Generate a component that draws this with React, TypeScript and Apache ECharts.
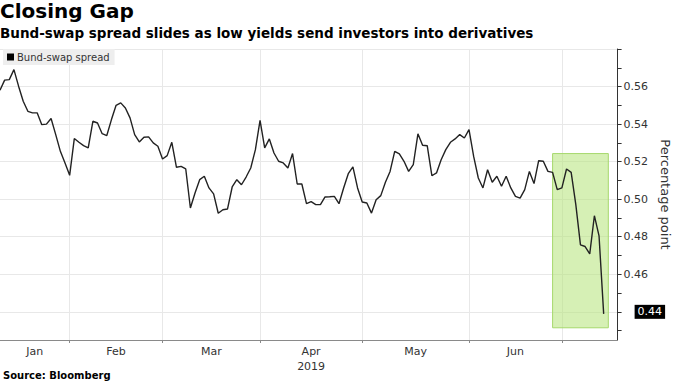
import React, { useEffect, useRef } from "react";
import * as echarts from "echarts";

const monthNames = ["Jan", "Feb", "Mar", "Apr", "May", "Jun"];
// business-day index at which each month (Feb..Jul) begins
const monthStarts = [15, 35, 56, 78, 101, 121];
// business-day index of each month's centre (label positions)
const monthCentres = [7.5, 25, 45.5, 67, 89.5, 111];
const yearLabel = "2019";
const xMax = 133;

// Bund-swap spread, one value per business day from mid-January 2019
const spread = [
  0.558, 0.5634, 0.5637, 0.569, 0.5602, 0.5522, 0.5468, 0.546, 0.546, 0.5397,
  0.54, 0.543, 0.5344, 0.5255, 0.5193, 0.5127, 0.5323, 0.5303, 0.5285, 0.5273,
  0.5415, 0.5406, 0.5349, 0.5339, 0.5424, 0.55, 0.5513, 0.5486, 0.5433, 0.5344,
  0.5305, 0.533, 0.5332, 0.53, 0.5282, 0.5214, 0.5232, 0.5303, 0.517, 0.5175,
  0.5161, 0.4953, 0.5033, 0.5104, 0.5122, 0.506, 0.5028, 0.4925, 0.4944, 0.4948,
  0.5065, 0.5104, 0.5077, 0.5118, 0.5166, 0.5264, 0.542, 0.5273, 0.5321, 0.5246,
  0.5202, 0.5193, 0.5166, 0.5243, 0.5081, 0.5081, 0.4976, 0.4987, 0.4971, 0.4971,
  0.5012, 0.5013, 0.5015, 0.4976, 0.506, 0.5136, 0.5172, 0.506, 0.4985, 0.498,
  0.4926, 0.4997, 0.5019, 0.509, 0.5148, 0.5255, 0.5241, 0.5202, 0.5148, 0.5184,
  0.5348, 0.5287, 0.5285, 0.5125, 0.514, 0.521, 0.5264, 0.5303, 0.5321, 0.5344,
  0.5326, 0.5371, 0.5228, 0.5113, 0.506, 0.5157, 0.509, 0.5122, 0.5069, 0.5122,
  0.506, 0.5015, 0.5006, 0.5051, 0.5148, 0.5083, 0.5205, 0.5202, 0.5148, 0.5143,
  0.5051, 0.506, 0.5161, 0.5143, 0.4971, 0.4757, 0.4748, 0.4709, 0.4912, 0.4805,
  0.4389,
];

const yMin = 0.425;
const yMax = 0.58;
const yTickValues = [0.43, 0.44, 0.45, 0.46, 0.47, 0.48, 0.49, 0.5, 0.51, 0.52, 0.53, 0.54, 0.55, 0.56, 0.57, 0.58];
const yLabelValues = [0.46, 0.48, 0.5, 0.52, 0.54, 0.56];
const yGridValues = [0.44, 0.46, 0.48, 0.5, 0.52, 0.54, 0.56, 0.58];

const highlightX = [119, 131];
const highlightY = [0.4315, 0.5243];

const FONT = "DejaVu Sans";

export default function App() {
  const ref = useRef<HTMLDivElement>(null);

  useEffect(() => {
    document.body.style.margin = "0";
    if (!ref.current) return;
    const chart = echarts.init(ref.current, undefined, { renderer: "svg" });
    const data = spread.map((v, i) => [i, v]);
    const last = spread[spread.length - 1];

    chart.setOption({
      animation: false,
      textStyle: { fontFamily: FONT },
      title: [
        {
          text: "Closing Gap",
          left: 0,
          top: 1,
          padding: 0,
          textStyle: { fontSize: 20, fontWeight: "bold", color: "#000", fontFamily: FONT },
        },
        {
          text: "Bund-swap spread slides as low yields send investors into derivatives",
          left: 0,
          top: 26,
          padding: 0,
          textStyle: { fontSize: 13.5, fontWeight: "bold", color: "#000", fontFamily: FONT },
        },
        {
          text: "Source: Bloomberg",
          left: 3,
          top: 370,
          padding: 0,
          textStyle: { fontSize: 10, fontWeight: "bold", color: "#000", fontFamily: FONT },
        },
      ],
      legend: {
        left: 3,
        top: 49,
        padding: [3, 5, 3, 4],
        backgroundColor: "#eeeeee",
        itemWidth: 7,
        itemHeight: 7,
        itemGap: 4,
        icon: "rect",
        textStyle: { fontSize: 10, color: "#333", fontFamily: FONT, padding: [0, 0, 0, -2] },
        data: [{ name: "Bund-swap spread", itemStyle: { color: "#000" } }],
      },
      grid: { left: 0, right: 49, top: 49, bottom: 42, containLabel: false },
      xAxis: {
        type: "value",
        min: 0,
        max: xMax,
        axisLine: { show: true, onZero: false, lineStyle: { color: "#8a8a8a", width: 1 } },
        axisTick: { show: true, length: 3, lineStyle: { color: "#8a8a8a" }, customValues: monthStarts },
        splitLine: { show: true, lineStyle: { color: "#e8e8e8", width: 1 } },
        axisLabel: {
          customValues: monthCentres,
          margin: 4,
          fontSize: 11,
          color: "#333",
          fontFamily: FONT,
          lineHeight: 15,
          formatter: (v: number) => {
            const idx = monthCentres.findIndex((c) => Math.abs(c - v) < 0.01);
            if (idx < 0) return "";
            const name = monthNames[idx];
            return name === "Apr" ? name + "\n" + yearLabel : name;
          },
        },
      },
      yAxis: [
        {
          type: "value",
          position: "right",
          min: yMin,
          max: yMax,
          name: "Percentage point",
          nameLocation: "middle",
          nameRotate: -90,
          nameGap: 33,
          nameTextStyle: { fontSize: 13, color: "#333", fontFamily: FONT },
          axisLine: { show: true, onZero: false, lineStyle: { color: "#333", width: 1 } },
          axisTick: { show: true, length: 4, inside: false, lineStyle: { color: "#333" }, customValues: yTickValues },
          splitLine: { show: false },
          axisLabel: {
            customValues: yLabelValues,
            margin: 6,
            fontSize: 11,
            color: "#333",
            fontFamily: FONT,
            formatter: (v: number) => v.toFixed(2),
          },
        },
        {
          type: "value",
          position: "right",
          min: yMin,
          max: yMax,
          axisLine: { show: false, onZero: false },
          axisTick: { show: false, customValues: yGridValues },
          axisLabel: { show: false },
          splitLine: { show: true, lineStyle: { color: "#e8e8e8", width: 1 } },
        },
      ],
      series: [
        {
          name: "Bund-swap spread",
          type: "line",
          yAxisIndex: 0,
          data,
          symbol: "none",
          lineStyle: { color: "#222", width: 1.4 },
          itemStyle: { color: "#000" },
          z: 3,
          markArea: {
            silent: true,
            itemStyle: { color: "rgba(180, 228, 120, 0.55)", borderColor: "#a6d86c", borderWidth: 1 },
            data: [[{ xAxis: highlightX[0], yAxis: highlightY[1] }, { xAxis: highlightX[1], yAxis: highlightY[0] }]],
          },
          markLine: {
            silent: true,
            symbol: "none",
            lineStyle: { color: "rgba(0,0,0,0)", width: 0 },
            data: [{ yAxis: last }],
            label: {
              show: true,
              position: "end",
              distance: 17,
              formatter: () => last.toFixed(2),
              backgroundColor: "#000",
              color: "#fff",
              padding: [2, 3, 1, 3],
              fontSize: 11,
              fontFamily: FONT,
            },
          },
        },
      ],
    });

    return () => chart.dispose();
  }, []);

  return <div ref={ref} style={{ width: 680, height: 382 }} />;
}
